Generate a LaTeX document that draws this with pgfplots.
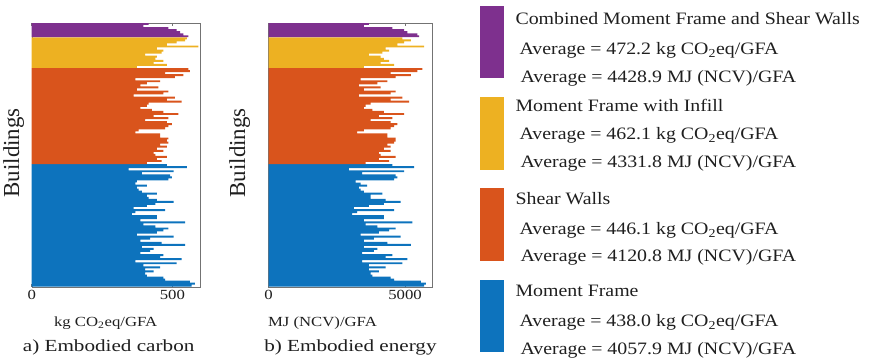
\documentclass[border=0pt]{standalone}
\usepackage{pgfplots}
\pgfplotsset{compat=1.18}
\usepackage{pgfplotstable}
\usepackage{fontspec}
\setmainfont{Liberation Serif}
\definecolor{mfblue}{rgb}{0.05,0.45,0.74}
\definecolor{mforange}{rgb}{0.85,0.33,0.11}
\definecolor{mfyellow}{rgb}{0.929,0.694,0.135}
\definecolor{mfpurple}{rgb}{0.494,0.19,0.556}
\definecolor{txt}{gray}{0.12}

\pgfplotstableread{
i c e
129 415 3676
128 397 3493
127 486 4534
126 515 4963
125 527 5086
124 539 5453
123 557 5515
}\purpletab

\pgfplotstableread{
i c e
122 551 4902
121 545 5208
120 515 4963
119 480 4718
118 592 5699
117 445 4289
116 468 4412
115 462 4167
114 403 3676
113 445 4105
112 439 4228
111 468 4412
110 433 4105
109 480 4596
108 374 3493
}\yellowtab

\pgfplotstableread{
i c e
107 557 5637
106 562 5453
105 474 4473
104 539 5208
103 509 4657
102 368 3370
101 456 4351
100 409 3983
99 386 3309
98 450 4105
97 374 3493
96 486 4657
95 468 4473
94 362 3309
93 509 4902
92 480 4473
91 533 5147
90 415 3738
89 409 3554
88 386 3493
87 427 3799
86 468 4228
85 521 4963
84 433 4044
83 486 4534
82 403 3738
81 480 4473
80 498 4718
79 486 4596
78 474 4473
77 380 3493
76 368 3248
75 456 4351
74 456 4351
73 486 4657
72 480 4657
71 486 4596
70 456 4351
69 480 4473
68 445 4228
67 468 4473
66 433 4044
65 439 4105
64 480 4657
63 445 4044
62 462 4412
61 409 3554
}\orangetab

\pgfplotstableread{
i c e
60 480 4534
59 551 5331
58 344 2941
57 504 4963
56 391 3431
55 492 4657
54 498 4718
53 486 4596
52 374 3186
51 368 3370
50 409 3615
49 374 3309
48 380 3370
47 391 3493
46 445 4167
45 409 3738
44 415 3738
43 445 4289
42 504 4841
41 439 4228
40 409 3676
39 362 3125
38 474 4596
37 368 3248
36 356 3064
35 445 4228
34 445 4228
33 386 3493
32 545 5270
31 397 3554
30 439 3983
29 486 4657
28 468 4412
27 445 4044
26 374 3370
25 504 4841
24 421 3860
23 386 3493
22 462 4351
21 545 5208
20 391 3493
19 433 3983
18 421 3860
17 386 3431
16 468 4534
15 456 4289
14 533 5086
13 368 3431
12 515 4902
11 397 3676
10 456 4289
9 403 3676
8 433 4044
7 403 3738
6 409 3799
5 468 4473
4 474 4596
3 562 5576
2 580 5760
1 568 5699
}\bluetab

\pgfplotsset{
  panel/.style={
    anchor=south west, scale only axis, height=264bp,
    ymin=0.5, ymax=129.5, ytick=\empty,
    tick align=inside, major tick length=3bp,
    axis line style={black!55}, every tick/.style={black!55, line width=0.5pt},
    xticklabel style={font=\fontsize{14}{14}\selectfont, xscale=1.2, text=txt},
    /pgf/number format/assume math mode=true,
    /pgf/number format/1000 sep={},
  },
  bars/.style={xbar, bar shift=0pt, bar width=0.95, draw=none, fill=#1},
}

\begin{document}
\begin{tikzpicture}[x=1bp,y=1bp]
\path (0,0) rectangle (876,364);

% a) Embodied carbon
\begin{axis}[panel, at={(31bp,77bp)}, width=169bp, xmin=0, xmax=600, xtick={0,500}]
\addplot[bars=mfblue] table[x=c,y=i]{\bluetab};
\addplot[bars=mforange] table[x=c,y=i]{\orangetab};
\addplot[bars=mfyellow] table[x=c,y=i]{\yellowtab};
\addplot[bars=mfpurple] table[x=c,y=i]{\purpletab};
\end{axis}

% b) Embodied energy
\begin{axis}[panel, at={(268bp,77bp)}, width=164bp, xmin=0, xmax=6000, xtick={0,5000}]
\addplot[bars=mfblue] table[x=e,y=i]{\bluetab};
\addplot[bars=mforange] table[x=e,y=i]{\orangetab};
\addplot[bars=mfyellow] table[x=e,y=i]{\yellowtab};
\addplot[bars=mfpurple] table[x=e,y=i]{\purpletab};
\end{axis}

\begin{scope}[every node/.style={text=txt}]
\node[rotate=90, font=\fontsize{23}{23}\selectfont] at (13,211) {Buildings};
\node[rotate=90, font=\fontsize{23}{23}\selectfont] at (239,211) {Buildings};
\node[font=\fontsize{14}{14}\selectfont, xscale=1.2] at (105,41) {kg CO\textsubscript{2}eq/GFA};
\node[font=\fontsize{17}{17}\selectfont, xscale=1.25] at (108,16) {a) Embodied carbon};
\node[font=\fontsize{14}{14}\selectfont, xscale=1.2] at (322,41) {MJ (NCV)/GFA};
\node[font=\fontsize{17}{17}\selectfont, xscale=1.25] at (350,16) {b) Embodied energy};
\end{scope}

% legend swatches
\fill[mfpurple] (480,286) rectangle (504,358);
\fill[mfyellow] (480,194) rectangle (504,267);
\fill[mforange] (480,103) rectangle (504,176);
\fill[mfblue]   (480,12)  rectangle (504,84);

\begin{scope}[every node/.style={anchor=base west, inner sep=0pt, text=txt, font=\fontsize{17.5}{17.5}\selectfont, xscale=1.14}]
\node at (515,339) {Combined Moment Frame and Shear Walls};
\node at (519,309) {Average = 472.2 kg CO\textsubscript{2}eq/GFA};
\node at (520,281) {Average = 4428.9 MJ (NCV)/GFA};
\node at (515,252) {Moment Frame with Infill};
\node at (519,224) {Average = 462.1 kg CO\textsubscript{2}eq/GFA};
\node at (520,196) {Average = 4331.8 MJ (NCV)/GFA};
\node at (515,159) {Shear Walls};
\node at (519,129) {Average = 446.1 kg CO\textsubscript{2}eq/GFA};
\node at (520,102) {Average = 4120.8 MJ (NCV)/GFA};
\node at (515,67) {Moment Frame};
\node at (519,37) {Average = 438.0 kg CO\textsubscript{2}eq/GFA};
\node at (520,9) {Average = 4057.9 MJ (NCV)/GFA};
\end{scope}
\end{tikzpicture}
\end{document}
